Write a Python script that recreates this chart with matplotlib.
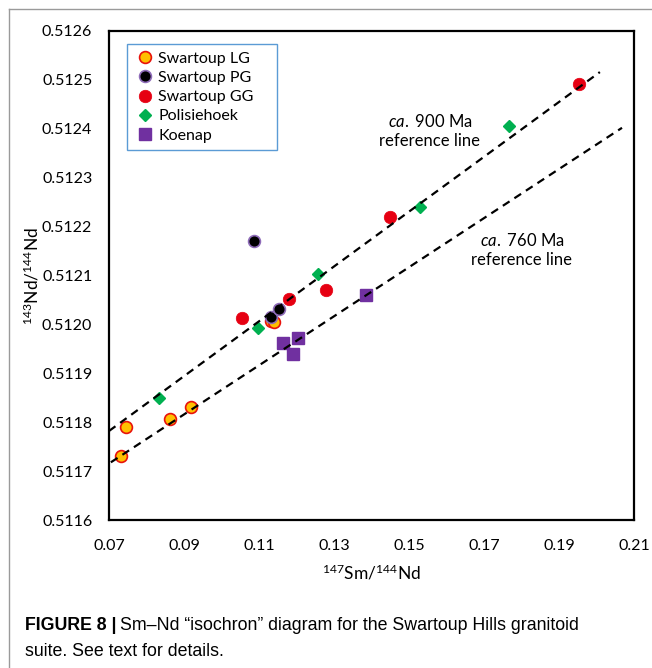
import matplotlib
matplotlib.use('Agg')
import matplotlib.pyplot as plt
from matplotlib.lines import Line2D

plt.rcParams['font.family'] = ['Lato', 'DejaVu Sans']
plt.rcParams['mathtext.fontset'] = 'custom'
plt.rcParams['mathtext.rm'] = 'Lato'
plt.rcParams['mathtext.it'] = 'Lato:italic'

# data
lg_x = [0.0732, 0.0745, 0.0863, 0.0919, 0.1132, 0.1140]
lg_y = [0.511731, 0.511790, 0.511807, 0.511831, 0.512007, 0.512005]

pg_x = [0.1087, 0.1132, 0.1153]
pg_y = [0.512171, 0.512015, 0.512031]

gg_x = [0.1055, 0.1180, 0.1279, 0.1449, 0.1953]
gg_y = [0.512013, 0.512052, 0.512070, 0.512220, 0.512492]

pol_x = [0.0833, 0.1097, 0.1257, 0.1529, 0.1767]
pol_y = [0.511849, 0.511993, 0.512103, 0.512240, 0.512406]

koe_x = [0.1164, 0.1204, 0.1191, 0.1385]
koe_y = [0.511962, 0.511972, 0.511939, 0.512060]

# reference lines (end points)
ref900_x = [0.0700, 0.2009]
ref900_y = [0.511782, 0.512516]
ref760_x = [0.0705, 0.2068]
ref760_y = [0.511718, 0.512402]

xticks = [0.07, 0.09, 0.11, 0.13, 0.15, 0.17, 0.19, 0.21]
yticks = [0.5116, 0.5117, 0.5118, 0.5119, 0.5120, 0.5121, 0.5122, 0.5123, 0.5124, 0.5125, 0.5126]

fig = plt.figure(figsize=(6.52, 6.68), dpi=100)
ax = fig.add_axes([109/652, 1 - 520/668, 525/652, 489/668])

ax.plot(lg_x, lg_y, 'o', ms=8.5, mfc='#FFC000', mec='#E8120C', mew=1.2, label='Swartoup LG', zorder=3)
ax.plot(pg_x, pg_y, 'o', ms=8.5, mfc='black', mec='#8E6BB8', mew=1.2, label='Swartoup PG', zorder=3)
ax.plot(gg_x, gg_y, 'o', ms=9, mfc='#E60012', mec='#E60012', mew=0.5, label='Swartoup GG', zorder=3)
ax.plot(pol_x, pol_y, 'D', ms=6.5, mfc='#00B050', mec='#00B050', label='Polisiehoek', zorder=3)
ax.plot(koe_x, koe_y, 's', ms=9, mfc='#7030A0', mec='#7030A0', label='Koenap', zorder=3)

ax.plot(ref900_x, ref900_y, color='black', lw=1.6, ls=(0, (3.6, 2.6)), zorder=4)
ax.plot(ref760_x, ref760_y, color='black', lw=1.6, ls=(0, (3.6, 2.6)), zorder=4)

ax.text(0.1556, 0.512396, r'$\it{ca.}$ 900 Ma' + '\nreference line', ha='center', va='center',
        fontsize=12, linespacing=1.25)
ax.text(0.1801, 0.512152, r'$\it{ca.}$ 760 Ma' + '\nreference line', ha='center', va='center',
        fontsize=12, linespacing=1.25)

ax.set_xlim(0.07, 0.21)
ax.set_ylim(0.5116, 0.5126)
ax.set_xticks(xticks)
ax.set_xticklabels([f'{v:.2f}' for v in xticks])
ax.set_yticks(yticks)
ax.set_yticklabels([f'{v:.4f}' for v in yticks])
ax.tick_params(length=0, labelsize=11.5)
ax.tick_params(axis='y', pad=12)
ax.tick_params(axis='x', pad=14)
for s in ax.spines.values():
    s.set_linewidth(1.6)

ax.set_xlabel(r'$^{147}$Sm/$^{144}$Nd', fontsize=12.5, labelpad=7)
ax.set_ylabel(r'$^{143}$Nd/$^{144}$Nd', fontsize=12.5, labelpad=0)

leg = ax.legend(loc='upper left', bbox_to_anchor=(0.0343, 0.5, 0.286, 0.473), mode='expand',
                fontsize=11.5, fancybox=False, framealpha=1, edgecolor='#5B9BD5',
                handletextpad=0.2, handlelength=1.3, borderpad=0.45,
                labelspacing=0.32, borderaxespad=0)
leg.get_frame().set_linewidth(1.0)

# outer frame of the figure panel
fig.add_artist(Line2D([9/652, 1], [1 - 9/668, 1 - 9/668], transform=fig.transFigure,
                      color='#9a9a9a', lw=1))
fig.add_artist(Line2D([9/652, 9/652], [0, 1 - 9/668], transform=fig.transFigure,
                      color='#9a9a9a', lw=1))

# caption
cap_font = ['Liberation Sans', 'DejaVu Sans']
t1 = fig.text(25/652, 1 - 625/668, 'FIGURE 8 |', family=cap_font, fontweight='bold',
              fontsize=12.8, va='center', ha='left')
fig.canvas.draw()
bb = t1.get_window_extent()
fig.text((bb.x1 + 4)/652, 1 - 625/668,
         'Sm\u2013Nd \u201cisochron\u201d diagram for the Swartoup Hills granitoid',
         family=cap_font, fontsize=12.8, va='center', ha='left')
fig.text(25/652, 1 - 651/668, 'suite. See text for details.', family=cap_font,
         fontsize=12.8, va='center', ha='left')

fig.savefig('out.png', dpi=100)
